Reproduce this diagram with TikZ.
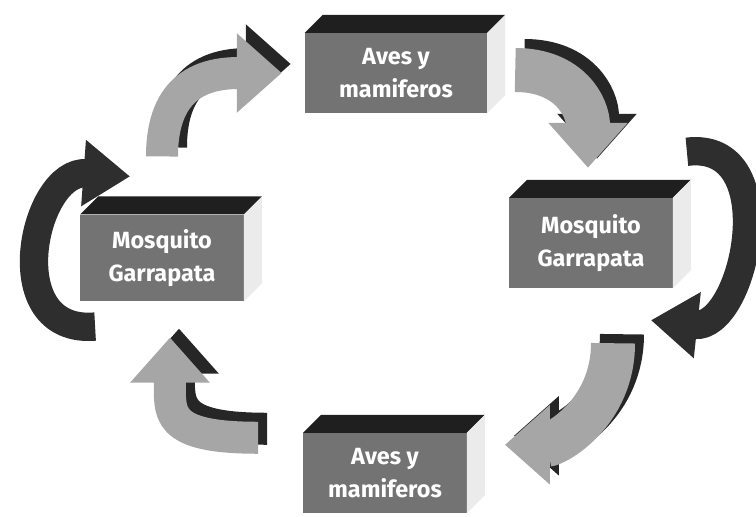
\documentclass[tikz,border=0pt]{standalone}
\usepackage{fontspec}
\setsansfont{Fira Sans}
\usetikzlibrary{arrows.meta,calc}

\begin{document}
\begin{tikzpicture}[x=0.03cm, y=-0.03cm,
  box/.style={fill=black!55, minimum width=4.9cm, minimum height=2.6cm,
    inner sep=0pt, text=white, align=center,
    font=\sffamily\bfseries\fontsize{20}{28}\selectfont},
  topface/.style={fill=black!88},
  sideface/.style={fill=black!8},
  lightarrow/.style={draw=black!35, line width=0.96cm,
    -{Triangle[length=1.35cm, width=2.3cm]}},
  arrowback/.style={lightarrow, draw=black!85,
    transform canvas={shift={(9,-9)}}},
  darkloop/.style={draw=black!82, line width=0.85cm,
    -{Triangle[length=1.4cm, width=1.9cm]}}]
\useasboundingbox (0,0) rectangle (756,517);

% the four boxes
\node[box, minimum width=5.46cm, minimum height=2.4cm] (top) at (396,73) {Aves y\\mamiferos};
\node[box, minimum height=2.7cm] (rgt) at (591,243) {Mosquito\\Garrapata};
\node[box, minimum height=2.6cm] (lft) at (162,258) {Mosquito\\Garrapata};
\node[box, minimum height=2.4cm] (bot) at (385,473) {Aves y\\mamiferos};

\foreach \b in {top,rgt,lft,bot} {
  \fill[topface] (\b.north west) -- ++(18,-18) -- ($(\b.north east)+(18,-18)$)
    -- (\b.north east) -- cycle;
  \fill[sideface] (\b.north east) -- ++(18,-18) -- ($(\b.south east)+(18,-18)$)
    -- (\b.south east) -- cycle;
}

% arrows between the boxes, dark copy first
\foreach \st in {arrowback,lightarrow} {
  \draw[\st] ($(lft.north)+(0,-58)$) .. controls +(0,-72) and +(-77,0) .. ($(top.west)+(-23,0)$);
  \draw[\st, line width=1.32cm] ($(top.east)+(28,-3)$) .. controls +(55,0) and +(0,-60) .. ($(rgt.north)+(-3,-30)$);
  \draw[\st, line width=1.32cm] ($(rgt.south)+(22,55)$) .. controls +(0,70) and +(50,0) .. ($(bot.north east)+(38,12)$);
  \draw[\st] ($(bot.north west)+(-45,5)$) .. controls +(-95,0) and +(0,75) .. ($(lft.south)+(8,36)$);
}

% loops round the side boxes
\draw[darkloop] ($(rgt.north east)+(14,-46)$) .. controls +(98,-12) and +(94,10) .. ($(rgt.south east)+(-22,32)$);
\draw[darkloop] ($(lft.south west)+(15,25)$) .. controls +(-97,8) and +(-97,-7) .. ($(lft.north west)+(50,-38)$);
\end{tikzpicture}
\end{document}
